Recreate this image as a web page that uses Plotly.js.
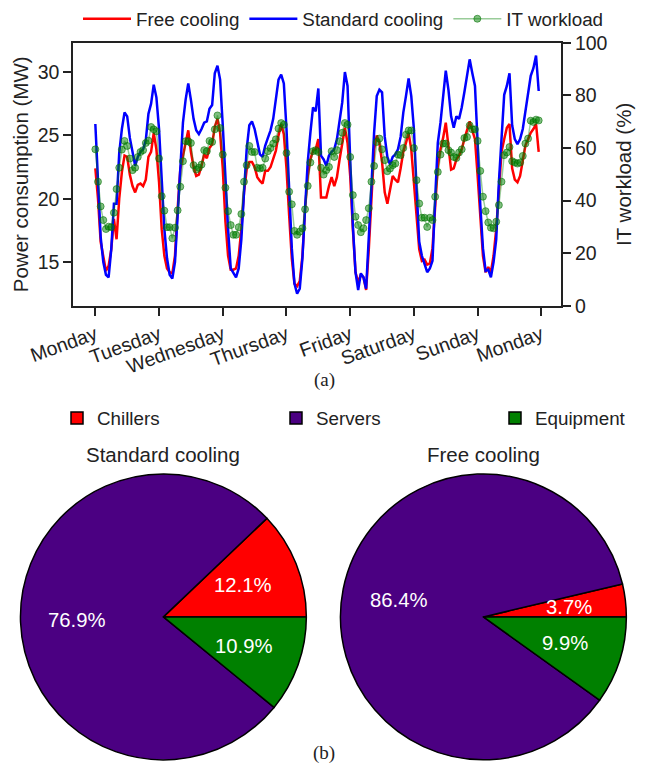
<!DOCTYPE html>
<html>
<head>
<meta charset="utf-8">
<script src="https://cdn.plot.ly/plotly-3.0.1.min.js"></script>
<style>
html,body{margin:0;padding:0;background:#fff;overflow:hidden;}
#wrap{width:645px;height:776px;overflow:hidden;position:relative;}
#chart{width:720px;height:776px;}
</style>
</head>
<body>
<div id="wrap"><div id="chart"></div></div>
<script>
// ---------- DATA ----------
const dayLabels = ["Monday","Tuesday","Wednesday","Thursday","Friday","Saturday","Sunday","Monday"];
const dayTickHours = [0,24,48,72,96,120,144,168];

// Hourly power consumption (MW), one week, hour 0 = Monday 00:00
const freeCooling = [
22.4,20.0,16.6,15.3,14.3,14.7,16.0,18.4,16.8,20.0,22.1,23.4,23.3,21.9,21.0,20.5,21.1,21.2,21.0,21.5,23.3,23.7,25.2,23.9,
21.3,17.6,15.5,14.5,14.2,14.1,15.5,19.2,22.3,23.4,24.4,25.4,23.7,22.5,21.8,21.9,22.6,23.5,23.2,24.0,24.3,25.7,26.3,25.2,
22.4,18.2,15.5,14.4,14.4,14.5,15.5,17.6,20.5,22.3,22.9,22.9,22.5,21.7,21.4,21.2,22.2,22.2,22.5,23.1,23.8,25.0,25.9,25.1,
22.4,18.7,15.3,13.3,13.1,13.5,15.5,19.2,21.8,23.1,23.8,23.9,24.7,20.1,20.1,20.1,21.0,21.7,21.0,21.7,23.1,24.4,25.6,24.4,
21.8,17.6,14.2,13.4,14.0,13.8,12.8,16.0,20.5,23.9,25.0,24.4,22.9,20.5,19.6,20.8,21.8,21.5,21.3,22.4,23.7,24.4,25.2,23.9,
21.3,18.7,16.0,15.1,15.2,14.8,14.9,16.1,19.4,22.6,23.9,24.8,26.0,23.9,22.3,22.4,23.1,23.4,23.9,24.7,25.5,26.1,25.4,24.7,
21.8,18.4,15.5,14.2,14.6,14.2,15.5,17.6,20.5,23.7,24.7,25.6,25.9,22.4,21.5,21.3,21.8,22.9,24.2,24.7,25.2,25.5,25.9,23.7
];
const standardCooling = [
25.9,21.0,17.0,15.0,14.0,13.8,16.0,19.6,19.6,23.6,25.5,26.8,26.5,24.8,23.8,22.6,23.3,23.7,23.9,24.6,26.7,27.5,29.0,28.0,
25.5,21.3,17.6,15.3,14.0,13.7,15.0,18.7,22.9,26.0,27.8,29.1,27.8,26.3,25.4,25.1,25.5,26.0,26.1,27.1,27.4,29.9,30.5,29.4,
25.8,21.3,17.6,14.5,14.2,13.8,14.5,16.8,20.5,23.9,25.8,26.1,25.5,24.4,23.5,23.3,24.2,24.8,25.4,26.3,27.7,29.4,29.8,29.1,
25.5,20.5,16.1,13.3,12.5,12.9,15.3,19.2,22.9,25.2,27.2,26.9,28.7,23.4,23.1,22.6,23.4,23.7,23.9,24.7,26.3,27.6,30.0,28.9,
23.1,17.9,14.2,12.8,14.1,13.8,12.9,16.6,21.0,25.2,28.1,28.6,28.4,24.9,23.3,22.7,23.3,23.5,23.9,24.9,26.8,28.1,29.5,28.1,
25.5,20.8,16.6,15.5,14.8,14.2,14.5,15.1,20.0,24.4,26.0,28.1,30.1,28.6,26.5,25.6,26.5,26.3,27.2,28.4,29.9,31.0,29.9,28.9,
24.4,19.5,16.1,14.3,14.4,13.8,15.0,16.8,21.3,24.7,28.2,28.9,29.9,25.8,24.7,24.3,24.7,25.5,26.8,28.1,29.7,30.3,31.3,28.5
];
// IT workload (%)
const itWorkload = [
59.5,47.2,37.8,32.6,29.2,30.1,29.9,35.4,44.4,52.5,59.4,62.7,60.8,56.0,51.6,52.5,56.6,58.5,59.2,61.9,62.8,68.0,67.1,66.4,
56.0,41.7,36.2,29.9,29.9,25.7,29.7,36.3,45.3,55.0,62.6,62.6,61.9,53.5,51.8,52.5,53.7,59.2,58.8,62.7,62.3,67.1,72.4,67.6,
57.5,44.9,36.0,30.7,27.0,27.0,29.9,34.9,47.2,53.5,60.8,58.5,58.5,52.5,52.2,52.5,56.0,58.8,60.0,61.7,63.3,67.4,69.5,68.9,
58.1,43.4,38.6,28.5,27.0,28.2,29.5,36.7,45.6,54.5,58.8,59.2,58.5,52.5,49.9,51.6,52.8,58.8,56.6,59.2,62.6,65.8,69.5,68.9,
56.6,42.1,33.9,30.7,28.0,29.5,32.6,37.1,47.2,53.2,62.3,63.6,59.5,55.4,51.2,52.2,53.5,54.1,57.5,57.3,60.0,65.1,66.7,66.7,
60.0,47.8,38.9,33.5,33.5,30.0,33.5,32.6,41.5,50.9,57.5,61.7,61.7,59.2,58.3,56.6,56.2,58.3,59.5,63.8,64.2,68.6,67.1,67.1,
62.7,51.3,41.5,36.0,31.7,29.7,29.5,32.0,38.3,47.2,57.3,58.3,60.4,55.0,54.5,54.1,54.5,57.0,61.7,63.6,70.4,69.9,70.8,70.5
];
const hours = freeCooling.map((_, i) => i);

// Pie charts: share of power (%)
const pieLabels = ["Chillers","Servers","Equipment"];
const pieColors = ["#FF0000","#4B0082","#008000"];
const standardShares = [12.1, 76.9, 10.9];
const freeShares = [3.7, 86.4, 9.9];

// ---------- LAYOUT HELPERS ----------
const FW = 720, H = 776;           // figure is wider than the visible 645 px so the pie legend fits on one row
const px = x => x / FW;
const py = y => 1 - y / H;
const textColor = "#222222";
const sans = "Liberation Sans, Arial, Helvetica, sans-serif";
const serif = "Liberation Serif, Times New Roman, serif";

const pies = [
  {name: "Standard cooling", values: standardShares, cx: 163.4, cy: 616.3},
  {name: "Free cooling", values: freeShares, cx: 483.4, cy: 616.3}
];
const R = 143.5;

const traces = [
  {x: hours, y: freeCooling, type: "scatter", mode: "lines", name: "Free cooling",
   line: {color: "#FF0000", width: 2.5}, xaxis: "x", yaxis: "y", legend: "legend"},
  {x: hours, y: standardCooling, type: "scatter", mode: "lines", name: "Standard cooling",
   line: {color: "#0000FF", width: 2.5}, xaxis: "x", yaxis: "y", legend: "legend"},
  {x: hours, y: itWorkload, type: "scatter", mode: "lines+markers", name: "IT workload",
   line: {color: "rgba(0,128,0,0.4)", width: 1.5},
   marker: {color: "rgba(0,128,0,0.5)", size: 7, line: {color: "rgba(0,110,0,0.55)", width: 1}},
   xaxis: "x", yaxis: "y2", legend: "legend"}
];

const annotations = [];
pies.forEach((p, k) => {
  const total = p.values.reduce((a, b) => a + b, 0);
  // first slice (Chillers) starts at 3 o'clock and runs counterclockwise
  const rot = 90 - 360 * p.values[0] / total;
  traces.push({
    type: "pie", labels: pieLabels, values: p.values, sort: false,
    direction: "counterclockwise", rotation: rot, textinfo: "none",
    hoverinfo: "label+percent",
    marker: {colors: pieColors, line: {color: "#000000", width: 1.5}},
    domain: {x: [px(p.cx - R), px(p.cx + R)], y: [py(p.cy + R), py(p.cy - R)]},
    showlegend: k === 0, legend: "legend2", name: p.name
  });
  annotations.push({text: p.name, x: px(p.cx), y: py(453), xref: "paper", yref: "paper",
    showarrow: false, xanchor: "center", yanchor: "middle",
    font: {family: sans, size: 20.5, color: textColor}});
  let cum = 0;
  p.values.forEach(v => {
    const mid = (cum + v / 2) / total * 2 * Math.PI;
    cum += v;
    annotations.push({text: v.toFixed(1) + "%",
      x: px(p.cx + 0.6 * R * Math.cos(mid)), y: py(p.cy - 0.6 * R * Math.sin(mid)),
      xref: "paper", yref: "paper", showarrow: false, xanchor: "center", yanchor: "middle",
      font: {family: sans, size: 20.3, color: "#FFFFFF"}});
  });
});
annotations.push({text: "(a)", x: px(324), y: py(378), xref: "paper", yref: "paper",
  showarrow: false, font: {family: serif, size: 19, color: textColor}});
annotations.push({text: "(b)", x: px(324), y: py(766), xref: "paper", yref: "paper",
  showarrow: false, font: {family: serif, size: 19, color: textColor}});

const axisCommon = {
  showline: true, linewidth: 2, linecolor: textColor, ticks: "outside", ticklen: 8,
  tickwidth: 2, tickcolor: textColor, showgrid: false, zeroline: false,
  tickfont: {family: sans, size: 19.5, color: textColor}
};

const layout = {
  width: FW, height: H, margin: {l: 0, r: 0, t: 0, b: 0},
  paper_bgcolor: "#ffffff", plot_bgcolor: "#ffffff",
  font: {family: sans, color: textColor},
  xaxis: Object.assign({}, axisCommon, {
    domain: [px(73.3), px(561)], range: [-8.3, 175.4],
    tickmode: "array", tickvals: dayTickHours, ticktext: dayLabels, tickangle: -20,
    mirror: true, anchor: "y"
  }),
  yaxis: Object.assign({}, axisCommon, {
    domain: [py(304), py(40)], range: [11.55, 32.3],
    tickmode: "array", tickvals: [15, 20, 25, 30], anchor: "x",
    title: {text: "Power consumption (MW)", font: {family: sans, size: 20.5, color: textColor}, standoff: 4}
  }),
  yaxis2: Object.assign({}, axisCommon, {
    overlaying: "y", side: "right", anchor: "x", range: [0, 100],
    tickmode: "array", tickvals: [0, 20, 40, 60, 80, 100],
    title: {text: "IT workload (%)", font: {family: sans, size: 20.5, color: textColor}, standoff: 10}
  }),
  legend: {orientation: "h", x: px(78), y: py(16), xanchor: "left", yanchor: "middle",
    font: {family: sans, size: 18.8, color: textColor}, bgcolor: "rgba(0,0,0,0)",
    traceorder: "normal", itemwidth: 48},
  legend2: {orientation: "h", x: px(57), y: py(417), xanchor: "left", yanchor: "middle",
    font: {family: sans, size: 18.8, color: textColor}, bgcolor: "rgba(0,0,0,0)",
    entrywidth: 174, entrywidthmode: "pixels"},
  annotations: annotations,
  showlegend: true
};

Plotly.newPlot("chart", traces, layout, {displayModeBar: false, staticPlot: true});
</script>
</body>
</html>
